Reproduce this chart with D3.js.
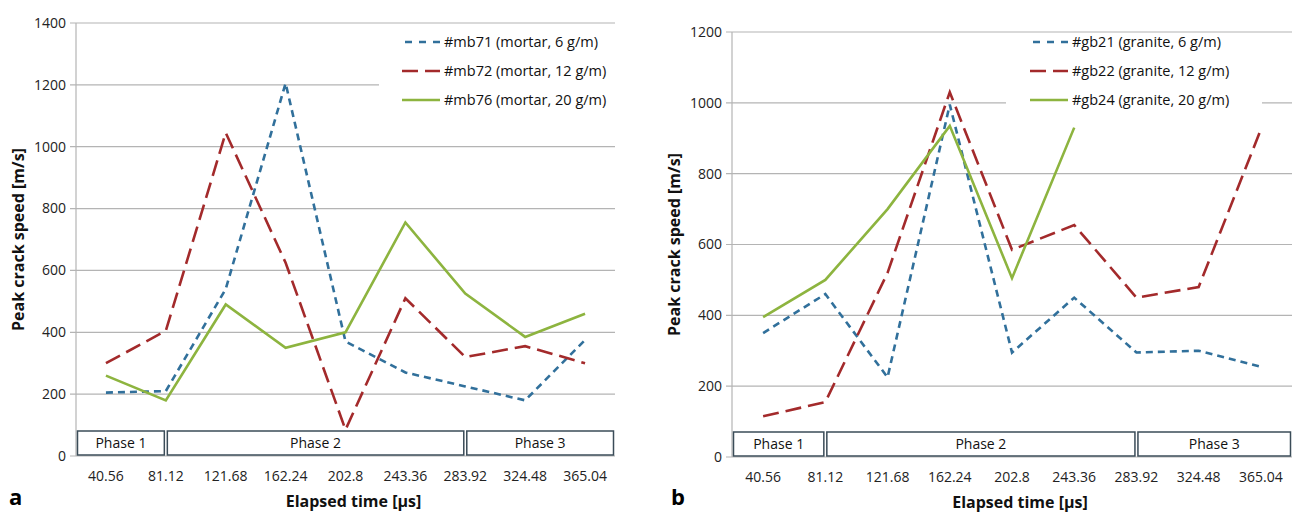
<!DOCTYPE html>
<html lang="en">
<head>
<meta charset="UTF-8">
<title>Peak crack speed</title>
<style>
  body { margin: 0; background: #fff; }
  svg { display: block; font-family: "Open Sans", sans-serif; }
</style>
</head>
<body>
<div id="chart"></div>
<script src="https://d3js.org/d3.v7.min.js"></script>
<script>
// elapsed time categories (x axis)
var timeLabels = ["40.56", "81.12", "121.68", "162.24", "202.8", "243.36", "283.92", "324.48", "365.04"];

// panel a - mortar
var mb71 = [205, 210, 540, 1205, 370, 270, 225, 180, 375];
var mb72 = [300, 405, 1045, 625, 85, 510, 320, 355, 300];
var mb76 = [260, 180, 490, 350, 400, 755, 525, 385, 460];
var namesA = ["#mb71 (mortar, 6 g/m)", "#mb72 (mortar, 12 g/m)", "#mb76 (mortar, 20 g/m)"];
var yTicksA = [0, 200, 400, 600, 800, 1000, 1200, 1400];

// panel b - granite
var gb21 = [350, 460, 225, 995, 295, 450, 295, 300, 255];
var gb22 = [115, 155, 520, 1030, 585, 655, 450, 480, 925];
var gb24 = [395, 500, 700, 935, 505, 930, null, null, null];
var namesB = ["#gb21 (granite, 6 g/m)", "#gb22 (granite, 12 g/m)", "#gb24 (granite, 20 g/m)"];
var yTicksB = [0, 200, 400, 600, 800, 1000, 1200];

// phases: boundaries at category centres (null = plot edge)
var phaseLabels = ["Phase 1", "Phase 2", "Phase 3"];
var phaseEdges = [null, "81.12", "283.92", null];

var colors = ["#31709b", "#a32a2b", "#8db43f"];
var dashes = ["7,5", "16,7", null];

var width = 1294, height = 514;
var svg = d3.select("#chart").append("svg")
    .attr("width", width)
    .attr("height", height);

function drawPanel(p) {
    var g = svg.append("g");

    var x = d3.scalePoint()
        .domain(timeLabels)
        .range([p.left, p.right])
        .padding(0.5);

    var y = d3.scaleLinear()
        .domain([0, d3.max(p.ticks)])
        .range([p.bottom, p.top]);

    // gridlines
    g.selectAll(".grid")
        .data(p.ticks)
        .enter()
        .append("line")
        .attr("x1", p.left - 6)
        .attr("x2", p.right)
        .attr("y1", function (d) { return y(d); })
        .attr("y2", function (d) { return y(d); })
        .attr("stroke", "#b4b4b4")
        .attr("stroke-width", 1.2);

    // y axis line
    g.append("line")
        .attr("x1", p.left).attr("x2", p.left)
        .attr("y1", p.top).attr("y2", p.bottom)
        .attr("stroke", "#b4b4b4")
        .attr("stroke-width", 1.2);

    // y tick labels
    g.selectAll(".ytick")
        .data(p.ticks)
        .enter()
        .append("text")
        .attr("x", p.left - 10)
        .attr("y", function (d) { return y(d); })
        .attr("dy", "0.35em")
        .attr("text-anchor", "end")
        .style("font-size", "14px")
        .style("fill", "#222")
        .text(function (d) { return d; });

    // x tick labels
    g.selectAll(".xtick")
        .data(timeLabels)
        .enter()
        .append("text")
        .attr("x", function (d) { return x(d); })
        .attr("y", p.bottom + 25)
        .attr("text-anchor", "middle")
        .style("font-size", "14px")
        .style("fill", "#222")
        .text(function (d) { return d; });

    // axis titles
    g.append("text")
        .attr("x", (p.left + p.right) / 2 + 8)
        .attr("y", p.bottom + 51)
        .attr("text-anchor", "middle")
        .style("font-size", "16px")
        .style("font-weight", "bold")
        .style("fill", "#111")
        .text("Elapsed time [µs]");

    g.append("text")
        .attr("transform", "translate(" + p.yLabelX + "," + ((p.top + p.bottom) / 2) + ") rotate(-90)")
        .attr("text-anchor", "middle")
        .style("font-size", "16px")
        .style("font-weight", "bold")
        .style("fill", "#111")
        .text("Peak crack speed [m/s]");

    // panel letter
    g.append("text")
        .attr("x", p.letterX)
        .attr("y", 505)
        .style("font-size", "22px")
        .style("font-weight", "bold")
        .style("fill", "#000")
        .text(p.letter);

    // phase boxes
    var phases = phaseLabels.map(function (lab, i) {
        var a = phaseEdges[i] === null ? p.left : x(phaseEdges[i]);
        var b = phaseEdges[i + 1] === null ? p.right : x(phaseEdges[i + 1]);
        return { label: lab, x0: a, x1: b };
    });
    var boxTop = p.bottom - 25, boxBottom = p.bottom - 1;
    g.selectAll(".phase")
        .data(phases)
        .enter()
        .append("rect")
        .attr("x", function (d) { return d.x0 + 1.5; })
        .attr("y", boxTop)
        .attr("width", function (d) { return d.x1 - d.x0 - 3; })
        .attr("height", boxBottom - boxTop)
        .attr("fill", "#fff")
        .attr("stroke", "#3b4c58")
        .attr("stroke-width", 1.5);
    g.selectAll(".phaseLabel")
        .data(phases)
        .enter()
        .append("text")
        .attr("x", function (d) { return (d.x0 + d.x1) / 2; })
        .attr("y", (boxTop + boxBottom) / 2)
        .attr("dy", "0.35em")
        .attr("text-anchor", "middle")
        .style("font-size", "14px")
        .style("fill", "#111")
        .text(function (d) { return d.label; });

    // legend background (hides gridlines)
    g.append("rect")
        .attr("x", p.legendBox[0])
        .attr("y", p.legendBox[1])
        .attr("width", p.legendBox[2])
        .attr("height", p.legendBox[3])
        .attr("fill", "#fff");

    // series lines
    var line = d3.line()
        .defined(function (d) { return d !== null; })
        .x(function (d, i) { return x(timeLabels[i]); })
        .y(function (d) { return y(d); });

    g.selectAll(".series")
        .data(p.series)
        .enter()
        .append("path")
        .attr("d", function (d) { return line(d); })
        .attr("fill", "none")
        .attr("stroke", function (d, i) { return colors[i]; })
        .attr("stroke-width", 2.6)
        .attr("stroke-dasharray", function (d, i) { return dashes[i]; });

    // legend
    var leg = g.selectAll(".legend")
        .data(p.names)
        .enter()
        .append("g")
        .attr("transform", function (d, i) { return "translate(" + p.legendX + "," + (42 + i * 29) + ")"; });
    leg.append("line")
        .attr("x1", 0).attr("x2", 38)
        .attr("y1", 0).attr("y2", 0)
        .attr("stroke", function (d, i) { return colors[i]; })
        .attr("stroke-width", 2.6)
        .attr("stroke-dasharray", function (d, i) { return i === 0 ? "7,7" : dashes[i]; })
        .attr("stroke-dashoffset", function (d, i) { return i === 0 ? -3 : 0; });
    leg.append("text")
        .attr("x", 42)
        .attr("dy", "0.35em")
        .style("font-size", "14.5px")
        .style("fill", "#111")
        .text(function (d) { return d; });
}

drawPanel({
    left: 76, right: 615, top: 23, bottom: 456,
    ticks: yTicksA, series: [mb71, mb72, mb76], names: namesA,
    legendX: 402, legendBox: [379, 30, 236, 88],
    yLabelX: 24, letter: "a", letterX: 9
});

drawPanel({
    left: 732, right: 1292, top: 32, bottom: 457,
    ticks: yTicksB, series: [gb21, gb22, gb24], names: namesB,
    legendX: 1030, legendBox: [1006, 36, 256, 84],
    yLabelX: 680, letter: "b", letterX: 671
});
</script>
</body>
</html>
